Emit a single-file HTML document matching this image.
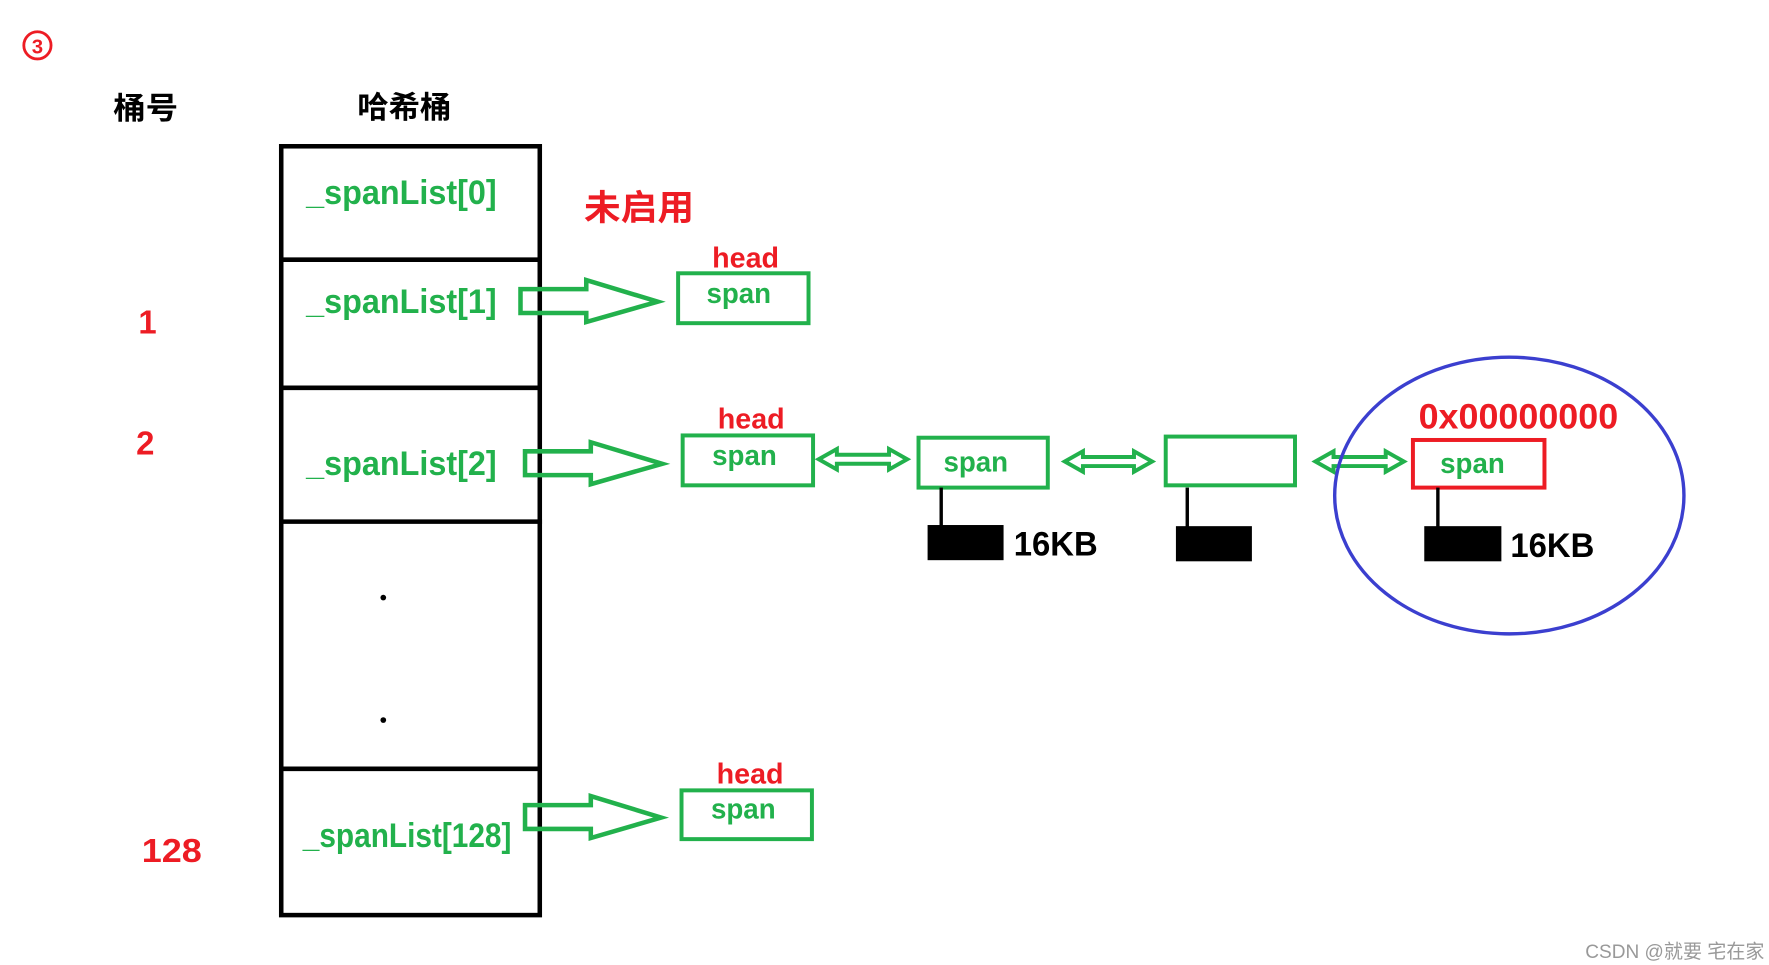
<!DOCTYPE html>
<html><head><meta charset="utf-8"><style>
html,body{margin:0;padding:0;background:#fff;}
svg{display:block;}
text{font-family:"Liberation Sans","Noto Sans CJK SC",sans-serif;}
</style></head><body>
<svg width="1769" height="965" viewBox="0 0 1560 851" xmlns="http://www.w3.org/2000/svg">
<rect width="1560" height="851" fill="#fff"/>
<circle cx="33" cy="40" r="12" fill="none" stroke="#ed1c24" stroke-width="2.5"/>
<text x="33" y="47" font-size="18" font-weight="bold" fill="#ed1c24" text-anchor="middle">3</text>
<text x="100" y="105" font-size="27" font-weight="bold" fill="#000" textLength="57" lengthAdjust="spacingAndGlyphs">桶号</text>
<text x="315" y="104" font-size="27" font-weight="bold" fill="#000" textLength="83" lengthAdjust="spacingAndGlyphs">哈希桶</text>
<g stroke="#000" stroke-width="4" fill="none">
<rect x="248" y="129" width="228" height="678"/>
<line x1="248" y1="229" x2="476" y2="229"/>
<line x1="248" y1="342" x2="476" y2="342"/>
<line x1="248" y1="460" x2="478" y2="460"/>
<line x1="248" y1="678" x2="476" y2="678"/>
</g>
<circle cx="338" cy="527" r="2.5" fill="#000"/>
<circle cx="338" cy="635" r="2.5" fill="#000"/>
<g fill="#22b14c" font-size="30" font-weight="bold">
<text x="270" y="180" textLength="168" lengthAdjust="spacingAndGlyphs">_spanList[0]</text>
<text x="270" y="276" textLength="168" lengthAdjust="spacingAndGlyphs">_spanList[1]</text>
<text x="270" y="419" textLength="168" lengthAdjust="spacingAndGlyphs">_spanList[2]</text>
<text x="267" y="747" textLength="184" lengthAdjust="spacingAndGlyphs">_spanList[128]</text>
</g>
<text x="515" y="194" font-size="31" font-weight="bold" fill="#ed1c24" textLength="97" lengthAdjust="spacingAndGlyphs">未启用</text>
<g fill="#ed1c24" font-size="29" font-weight="bold">
<text x="122" y="294">1</text>
<text x="120" y="401">2</text>
<text x="125" y="760" textLength="53" lengthAdjust="spacingAndGlyphs">128</text>
</g>
<g fill="none" stroke="#22b14c" stroke-width="4" stroke-linejoin="miter">
<path d="M459 255 H517 V247 L580 266 L517 284 V276 H459 Z"/>
<path d="M463 398 H521 V390 L584 409 L521 427 V419 H463 Z"/>
<path d="M463 710 H521 V702 L583 721 L521 739 V731 H463 Z"/>
<path d="M722 405 L738 396 V401 H784 V396 L800 405 L784 414 V409 H738 V414 Z" stroke-width="3.5"/>
<path d="M939 407 L955 398 V403 H1000 V398 L1016 407 L1000 416 V411 H955 V416 Z" stroke-width="3.5"/>
<path d="M1160 407 L1176 398 V403 H1222 V398 L1238 407 L1222 416 V411 H1176 V416 Z" stroke-width="3.5"/>
<rect x="598" y="241" width="115" height="44" stroke-width="3.5"/>
<rect x="602" y="384" width="115" height="44" stroke-width="3.5"/>
<rect x="601" y="697" width="115" height="43" stroke-width="3.5"/>
<rect x="810" y="386" width="114" height="44" stroke-width="3.5"/>
<rect x="1028" y="385" width="114" height="43" stroke-width="3.5"/>
</g>
<rect x="1246" y="388" width="116" height="42" fill="none" stroke="#ed1c24" stroke-width="3.5"/>
<g fill="#ed1c24" font-size="25" font-weight="bold">
<text x="628" y="236" textLength="59" lengthAdjust="spacingAndGlyphs">head</text>
<text x="633" y="378" textLength="59" lengthAdjust="spacingAndGlyphs">head</text>
<text x="632" y="691" textLength="59" lengthAdjust="spacingAndGlyphs">head</text>
</g>
<g fill="#22b14c" font-size="25" font-weight="bold">
<text x="623" y="267" textLength="57" lengthAdjust="spacingAndGlyphs">span</text>
<text x="628" y="410" textLength="57" lengthAdjust="spacingAndGlyphs">span</text>
<text x="627" y="722" textLength="57" lengthAdjust="spacingAndGlyphs">span</text>
<text x="832" y="416" textLength="57" lengthAdjust="spacingAndGlyphs">span</text>
<text x="1270" y="417" textLength="57" lengthAdjust="spacingAndGlyphs">span</text>
</g>
<text x="1251" y="378" font-size="31" font-weight="bold" fill="#ed1c24" textLength="176" lengthAdjust="spacingAndGlyphs">0x00000000</text>
<g stroke="#000" stroke-width="3">
<line x1="830" y1="430" x2="830" y2="465"/>
<line x1="1047" y1="430" x2="1047" y2="465"/>
<line x1="1268" y1="430" x2="1268" y2="465"/>
</g>
<g fill="#000">
<rect x="818" y="463" width="67" height="31"/>
<rect x="1037" y="464" width="67" height="31"/>
<rect x="1256" y="464" width="68" height="31"/>
</g>
<g fill="#000" font-size="30" font-weight="bold">
<text x="894" y="490" textLength="74" lengthAdjust="spacingAndGlyphs">16KB</text>
<text x="1332" y="491" textLength="74" lengthAdjust="spacingAndGlyphs">16KB</text>
</g>
<ellipse cx="1331" cy="437" rx="154" ry="122" fill="none" stroke="#3b3fcf" stroke-width="3"/>
<text x="1398" y="845" font-size="17" fill="#999" textLength="158" lengthAdjust="spacingAndGlyphs">CSDN @就要 宅在家</text>
</svg>
</body></html>
